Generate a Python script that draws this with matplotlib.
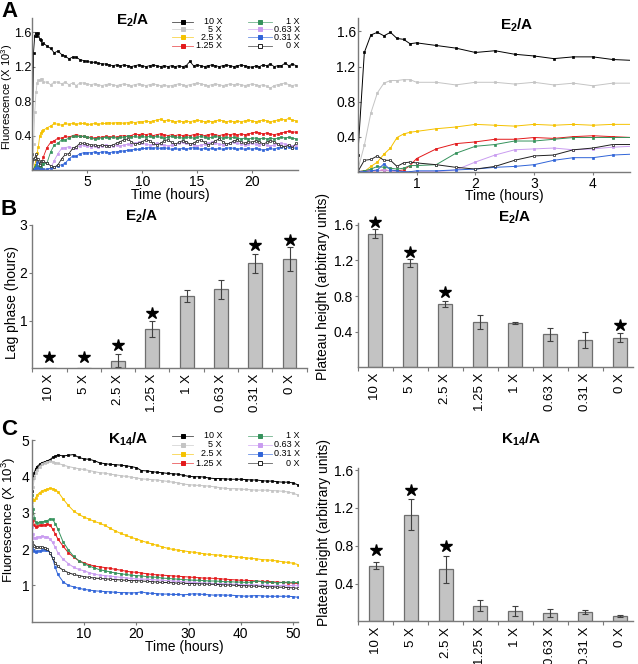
import numpy as np
import matplotlib.pyplot as plt
from matplotlib.lines import Line2D

plt.rcParams['font.family'] = ['Liberation Sans', 'DejaVu Sans']
plt.rcParams['mathtext.fontset'] = 'custom'
plt.rcParams['mathtext.rm'] = 'Liberation Sans'
plt.rcParams['mathtext.bf'] = 'Liberation Sans:bold'
plt.rcParams['mathtext.default'] = 'regular'

W, H = 638, 664

labels = ['10 X', '5 X', '2.5 X', '1.25 X', '1 X', '0.63 X', '0.31 X', '0 X']
colors = ['#000000', '#c4c4c4', '#f5c200', '#e3191b', '#35925c', '#c99cf0', '#3064d8', '#202020']

# ---- panel A: E2/A kinetics (0-1 h every ~6.7 min, then every 20 min) ----
t_A = np.concatenate([np.linspace(0, 1, 10), np.arange(4, 73) / 3])

a_10x = [0.19, 1.36, 1.56, 1.59, 1.55, 1.59, 1.52, 1.51, 1.46, 1.47,
         1.44, 1.41, 1.36, 1.38, 1.34, 1.32, 1.29, 1.31, 1.31, 1.28, 1.27,
         1.26, 1.25, 1.25, 1.24, 1.23, 1.23, 1.22,
         1.21, 1.22, 1.21, 1.22, 1.21, 1.20, 1.21, 1.22, 1.21,
         1.20, 1.21, 1.22, 1.21, 1.20, 1.21, 1.20, 1.21, 1.20,
         1.21, 1.20, 1.21, 1.26, 1.21, 1.22, 1.21, 1.20, 1.21,
         1.22, 1.21, 1.20, 1.21, 1.22, 1.21, 1.20, 1.21, 1.22,
         1.21, 1.20, 1.19, 1.21, 1.20, 1.22, 1.21, 1.23, 1.20,
         1.21, 1.21, 1.24, 1.21, 1.23, 1.21]
a_5x = [0.02, 0.30, 0.67, 0.90, 1.01, 1.04, 1.04, 1.05, 1.05, 1.02,
        1.02, 0.99, 1.02, 1.02, 1.00, 1.02, 0.99, 1.01, 0.98, 1.01, 1.01,
        1.00, 0.99, 1.00, 0.99, 0.98, 0.99, 1.00,
        0.99, 0.98, 0.99, 1.00, 0.99, 0.98, 0.99, 1.00, 0.99,
        0.98, 0.99, 1.00, 0.99, 0.98, 0.99, 0.97, 0.98, 0.99,
        1.00, 0.99, 0.98, 0.99, 1.00, 1.01, 1.00, 0.99, 0.98,
        0.99, 1.00, 0.99, 0.98, 0.99, 1.00, 0.99, 1.00, 0.99,
        0.98, 0.99, 1.00, 0.99, 0.98, 0.99, 0.97, 0.95, 0.98,
        0.99, 1.00, 1.01, 0.99, 0.98, 0.99]
a_2_5x = [0.00, 0.00, 0.06, 0.11, 0.20, 0.27, 0.39, 0.43, 0.45, 0.46,
          0.49, 0.51, 0.54, 0.53, 0.52, 0.54, 0.53, 0.54, 0.53, 0.54, 0.54,
          0.53, 0.53, 0.54, 0.53, 0.54, 0.54, 0.55,
          0.54, 0.55, 0.55, 0.54, 0.55, 0.56, 0.55, 0.56, 0.56,
          0.57, 0.56, 0.57, 0.58, 0.59, 0.57, 0.58, 0.57, 0.56,
          0.57, 0.56, 0.57, 0.56, 0.57, 0.58, 0.57, 0.56, 0.57,
          0.56, 0.57, 0.58, 0.57, 0.56, 0.57, 0.56, 0.57, 0.56,
          0.57, 0.58, 0.57, 0.56, 0.57, 0.58, 0.57, 0.56, 0.57,
          0.58, 0.59, 0.58, 0.60, 0.58, 0.57]
a_1_25x = [0.00, 0.01, 0.01, 0.01, 0.02, 0.01, 0.01, 0.02, 0.07, 0.15,
           0.26, 0.32, 0.34, 0.37, 0.37, 0.39, 0.38, 0.40, 0.41, 0.40, 0.39,
           0.38, 0.38, 0.37, 0.38, 0.38, 0.39, 0.38,
           0.39, 0.38, 0.39, 0.40, 0.39, 0.40, 0.42, 0.41, 0.42,
           0.41, 0.42, 0.40, 0.41, 0.42, 0.41, 0.40, 0.41, 0.40,
           0.41, 0.40, 0.41, 0.40, 0.41, 0.42, 0.41, 0.40, 0.41,
           0.42, 0.41, 0.40, 0.41, 0.42, 0.41, 0.42, 0.41, 0.42,
           0.41, 0.42, 0.43, 0.44, 0.43, 0.42, 0.43, 0.42, 0.41,
           0.42, 0.43, 0.44, 0.45, 0.44, 0.44]
a_1x = [0.00, 0.01, 0.03, 0.06, 0.05, 0.04, 0.03, 0.04, 0.07, 0.07,
        0.08, 0.21, 0.29, 0.31, 0.35, 0.35, 0.37, 0.39, 0.39, 0.39, 0.39,
        0.38, 0.37, 0.36, 0.37, 0.37, 0.38, 0.37,
        0.38, 0.37, 0.38, 0.38, 0.39, 0.38, 0.39, 0.38, 0.39,
        0.38, 0.39, 0.38, 0.39, 0.38, 0.37, 0.38, 0.39, 0.38,
        0.38, 0.37, 0.38, 0.38, 0.37, 0.38, 0.39, 0.38, 0.37,
        0.38, 0.39, 0.38, 0.37, 0.38, 0.37, 0.38, 0.37, 0.36,
        0.37, 0.36, 0.37, 0.37, 0.36, 0.37, 0.36, 0.37, 0.36,
        0.37, 0.38, 0.37, 0.38, 0.37, 0.36]
a_0_63x = [0.00, 0.00, 0.01, 0.01, 0.02, 0.01, 0.00, 0.00, 0.00, 0.00,
           0.00, 0.02, 0.11, 0.19, 0.25, 0.26, 0.27, 0.25, 0.26, 0.28, 0.29,
           0.28, 0.27, 0.28, 0.27, 0.28, 0.29, 0.28,
           0.28, 0.29, 0.28, 0.29, 0.30, 0.29, 0.31, 0.32, 0.31,
           0.30, 0.29, 0.30, 0.31, 0.30, 0.29, 0.28, 0.29, 0.30,
           0.31, 0.32, 0.31, 0.30, 0.29, 0.28, 0.29, 0.30, 0.31,
           0.32, 0.31, 0.30, 0.29, 0.30, 0.31, 0.32, 0.31, 0.30,
           0.29, 0.30, 0.31, 0.30, 0.29, 0.30, 0.29, 0.28, 0.29,
           0.30, 0.31, 0.30, 0.29, 0.28, 0.28]
a_0_31x = [0.00, 0.00, 0.01, 0.02, 0.09, 0.02, 0.01, 0.00, 0.00, 0.01,
           0.01, 0.02, 0.03, 0.05, 0.06, 0.08, 0.13, 0.16, 0.16, 0.19, 0.20,
           0.20, 0.20, 0.21, 0.20, 0.21, 0.21, 0.20,
           0.21, 0.21, 0.22, 0.22, 0.23, 0.23, 0.24, 0.24, 0.25,
           0.25, 0.26, 0.25, 0.26, 0.25, 0.26, 0.25, 0.24, 0.25,
           0.24, 0.25, 0.24, 0.25, 0.26, 0.25, 0.24, 0.25, 0.24,
           0.25, 0.24, 0.25, 0.24, 0.25, 0.26, 0.25, 0.24, 0.25,
           0.24, 0.25, 0.24, 0.25, 0.24, 0.23, 0.24, 0.25, 0.24,
           0.26, 0.27, 0.26, 0.27, 0.26, 0.25]
a_0x = [0.00, 0.13, 0.14, 0.18, 0.13, 0.13, 0.06, 0.10, 0.11, 0.10,
        0.08, 0.05, 0.03, 0.06, 0.13, 0.18, 0.19, 0.25, 0.27, 0.31, 0.31,
        0.30, 0.29, 0.29, 0.28, 0.29, 0.28, 0.28,
        0.29, 0.31, 0.33, 0.35, 0.36, 0.33, 0.30, 0.31, 0.33,
        0.35, 0.34, 0.31, 0.29, 0.31, 0.34, 0.35, 0.32, 0.30,
        0.32, 0.34, 0.33, 0.30, 0.31, 0.34, 0.35, 0.32, 0.29,
        0.31, 0.34, 0.36, 0.33, 0.30, 0.31, 0.34, 0.35, 0.32,
        0.31, 0.33, 0.32, 0.34, 0.33, 0.30, 0.32, 0.34, 0.33,
        0.30, 0.28, 0.27, 0.29, 0.26, 0.31]

# ---- panel B / C bar data ----
lag = [0, 0, 0.16, 0.82, 1.51, 1.65, 2.20, 2.28]
lag_err = [0, 0, 0.13, 0.16, 0.13, 0.19, 0.20, 0.25]
lag_star = [0.23, 0.23, 0.48, 1.15, np.nan, np.nan, 2.58, 2.69]

plat_e2 = [1.50, 1.17, 0.71, 0.51, 0.50, 0.37, 0.31, 0.33]
plat_e2_err = [0.05, 0.045, 0.03, 0.08, 0.01, 0.075, 0.09, 0.05]
plat_e2_star = [1.63, 1.30, 0.84, np.nan, np.nan, np.nan, np.nan, 0.47]

plat_k14 = [0.59, 1.13, 0.55, 0.166, 0.11, 0.088, 0.095, 0.053]
plat_k14_err = [0.035, 0.16, 0.145, 0.056, 0.05, 0.04, 0.02, 0.01]
plat_k14_star = [0.75, 1.39, 0.80, np.nan, np.nan, np.nan, np.nan, np.nan]

# ---- panel C: K14/A kinetics ----
t_C = np.concatenate([[0, 0.25, 0.5, 0.75, 1, 1.5, 2, 2.5, 3, 3.5, 4, 4.5, 5],
                      np.arange(6, 52)])

c_10x = [3.60, 3.95, 4.10, 4.20, 4.27, 4.33, 4.38, 4.40, 4.43, 4.46, 4.52, 4.55, 4.59,
         4.56, 4.58, 4.60, 4.52, 4.48, 4.47, 4.43, 4.37, 4.35, 4.33,
         4.32, 4.31, 4.29, 4.27, 4.24, 4.16, 4.15, 4.13, 4.11, 4.10,
         4.08, 4.07, 4.06, 4.03, 4.00, 3.99, 3.99, 3.98, 3.95, 3.94,
         3.94, 3.93, 3.92, 3.92, 3.92, 3.91, 3.90, 3.90, 3.88, 3.87,
         3.87, 3.85, 3.84, 3.84, 3.82, 3.76]
c_5x = [3.30, 3.70, 3.95, 4.08, 4.17, 4.27, 4.35, 4.38, 4.40, 4.41, 4.40, 4.38, 4.36,
        4.31, 4.27, 4.24, 4.21, 4.19, 4.16, 4.13, 4.10, 4.09, 4.06,
        4.04, 4.02, 4.00, 3.98, 3.96, 3.93, 3.92, 3.91, 3.90, 3.88,
        3.86, 3.84, 3.82, 3.79, 3.77, 3.76, 3.75, 3.74, 3.73, 3.71,
        3.69, 3.67, 3.66, 3.66, 3.65, 3.64, 3.63, 3.62, 3.62, 3.62,
        3.61, 3.60, 3.59, 3.57, 3.54, 3.48]
c_2_5x = [3.38, 3.35, 3.35, 3.40, 3.48, 3.55, 3.60, 3.63, 3.65, 3.67, 3.66, 3.63, 3.58,
          3.38, 3.20, 3.05, 2.95, 2.88, 2.82, 2.76, 2.71, 2.65, 2.57,
          2.50, 2.43, 2.38, 2.32, 2.28, 2.23, 2.18, 2.14, 2.10, 2.06,
          2.02, 1.99, 1.97, 1.95, 1.93, 1.91, 1.89, 1.87, 1.85, 1.84,
          1.83, 1.81, 1.80, 1.79, 1.77, 1.76, 1.74, 1.73, 1.71, 1.70,
          1.69, 1.67, 1.65, 1.63, 1.61, 1.57]
c_1_25x = [3.00, 2.80, 2.65, 2.60, 2.62, 2.65, 2.65, 2.67, 2.69, 2.66, 2.55, 2.42, 2.28,
           2.08, 1.90, 1.78, 1.68, 1.62, 1.57, 1.53, 1.51, 1.49, 1.47,
           1.44, 1.42, 1.39, 1.37, 1.36, 1.34, 1.32, 1.30, 1.29, 1.28,
           1.27, 1.26, 1.25, 1.24, 1.23, 1.22, 1.21, 1.20, 1.20, 1.19,
           1.18, 1.17, 1.16, 1.15, 1.14, 1.14, 1.13, 1.12, 1.11, 1.11,
           1.10, 1.09, 1.08, 1.07, 1.06, 1.05]
c_1x = [3.50, 3.10, 2.85, 2.75, 2.72, 2.74, 2.75, 2.76, 2.78, 2.83, 2.82, 2.70, 2.55,
        2.20, 1.98, 1.80, 1.68, 1.60, 1.53, 1.48, 1.43, 1.40, 1.37,
        1.34, 1.32, 1.30, 1.28, 1.27, 1.26, 1.24, 1.23, 1.22, 1.20,
        1.19, 1.18, 1.17, 1.16, 1.15, 1.14, 1.14, 1.13, 1.12, 1.12,
        1.11, 1.10, 1.10, 1.09, 1.09, 1.08, 1.09, 1.12, 1.10, 1.08,
        1.08, 1.07, 1.08, 1.09, 1.08, 1.08]
c_0_63x = [2.60, 2.40, 2.30, 2.30, 2.32, 2.34, 2.35, 2.34, 2.33, 2.28, 2.18, 2.05, 1.90,
           1.72, 1.60, 1.50, 1.44, 1.40, 1.35, 1.31, 1.28, 1.27, 1.25,
           1.24, 1.22, 1.21, 1.19, 1.18, 1.17, 1.17, 1.16, 1.15, 1.14,
           1.13, 1.12, 1.11, 1.10, 1.09, 1.08, 1.07, 1.06, 1.06, 1.05,
           1.05, 1.04, 1.03, 1.03, 1.02, 1.01, 1.02, 1.01, 1.00, 1.00,
           0.99, 0.99, 1.00, 0.99, 1.00, 1.00]
c_0_31x = [2.02, 1.97, 1.94, 1.93, 1.94, 1.95, 1.97, 1.98, 1.97, 1.90, 1.75, 1.50, 1.30,
           1.10, 1.00, 0.96, 0.92, 0.89, 0.87, 0.85, 0.84, 0.83, 0.82,
           0.81, 0.80, 0.80, 0.79, 0.80, 0.82, 0.79, 0.78, 0.77, 0.76,
           0.76, 0.75, 0.75, 0.74, 0.75, 0.77, 0.76, 0.75, 0.74, 0.73,
           0.74, 0.73, 0.73, 0.72, 0.71, 0.70, 0.71, 0.72, 0.71, 0.70,
           0.70, 0.70, 0.70, 0.70, 0.69, 0.67]
c_0x = [2.20, 2.10, 2.07, 2.06, 2.06, 2.05, 2.05, 2.04, 2.00, 1.90, 1.75, 1.62, 1.52,
        1.42, 1.35, 1.30, 1.27, 1.24, 1.22, 1.20, 1.19, 1.18, 1.17,
        1.16, 1.15, 1.14, 1.13, 1.13, 1.12, 1.11, 1.10, 1.09, 1.08,
        1.08, 1.07, 1.06, 1.06, 1.05, 1.05, 1.04, 1.04, 1.03, 1.03,
        1.02, 1.01, 1.01, 1.00, 0.99, 0.99, 0.98, 0.98, 0.97, 0.96,
        0.96, 0.95, 0.95, 0.94, 0.93, 0.92]

series_A = [a_10x, a_5x, a_2_5x, a_1_25x, a_1x, a_0_63x, a_0_31x, a_0x]
series_C = [c_10x, c_5x, c_2_5x, c_1_25x, c_1x, c_0_63x, c_0_31x, c_0x]


def rect(left, top, right, bottom):
    # pixel box -> figure fraction
    return [left / W, 1 - bottom / H, (right - left) / W, (bottom - top) / H]


def style(ax, ydir='in'):
    for s in ['top', 'right']:
        ax.spines[s].set_visible(False)
    for s in ['left', 'bottom']:
        ax.spines[s].set_color('#7a7a7a')
        ax.spines[s].set_linewidth(1.0)
    ax.tick_params(direction='out', length=2, width=0.8, color='#7a7a7a',
                   labelsize=10, pad=1.5)
    ax.tick_params(axis='y', direction=ydir, pad=1.5)


def lines(ax, t, data, ms=2.0, lw=0.7):
    for y, c, lab in zip(data, colors, labels):
        mfc = 'white' if lab == '0 X' else c
        ax.plot(t, y, '-', color=c, lw=lw, marker='s', ms=ms, mfc=mfc,
                mec=c, mew=0.5)


def bars(ax, vals, errs, stars):
    x = np.arange(len(labels))
    ax.bar(x, vals, width=0.4, color='#c3c3c3', edgecolor='#6e6e6e', lw=0.9)
    e = np.array(errs)
    m = e > 0
    ax.errorbar(x[m], np.array(vals)[m], yerr=e[m], fmt='none', ecolor='#404040',
                elinewidth=0.8, capsize=2.2, capthick=0.8)
    ax.plot(x, stars, '*', color='black', ms=9, ls='none', clip_on=False)
    ax.set_xlim(-0.5, 7.5)
    ax.set_xticks(x)
    ax.set_xticklabels(labels, rotation=90, fontsize=9.5)
    ax.set_xticks(np.arange(-0.5, 8, 1), minor=True)
    ax.tick_params(axis='x', which='major', length=0, pad=4)
    ax.tick_params(axis='x', which='minor', length=3, color='#7a7a7a', width=0.8)


def legend_block(fig, rows_y):
    for i, (c, lab) in enumerate(zip(colors, labels)):
        col, row = divmod(i, 4)
        x0, x1, xt = [(172, 193, 222), (248, 272, 300)][col]
        y = 1 - rows_y[row] / H
        fig.add_artist(Line2D([x0 / W, x1 / W], [y, y], transform=fig.transFigure,
                              color=c, lw=0.6, alpha=0.7))
        fig.add_artist(Line2D([(x0 + x1) / 2 / W], [y], transform=fig.transFigure,
                              marker='s', ms=3, color=c,
                              mfc='white' if lab == '0 X' else c, mec=c, mew=0.7))
        fig.text(xt / W, y, lab, ha='right', va='center', fontsize=6.5)


fig = plt.figure(figsize=(W / 100, H / 100), dpi=100)
title_e2 = r'E$_\mathbf{2}$/A'
title_k14 = r'K$_\mathbf{14}$/A'

# A left
ax = fig.add_axes(rect(32.3, 18.3, 298.3, 170))
style(ax)
ax.tick_params(axis='y', labelsize=9, pad=0.5)
lines(ax, t_A, series_A, ms=1.8, lw=0.6)
ax.set_xlim(0, 24.2)
ax.set_ylim(0, 1.76)
ax.set_xticks([5, 10, 15, 20])
ax.set_yticks([0.4, 0.8, 1.2, 1.6])
ax.set_xlabel('Time (hours)', fontsize=10)
ax.xaxis.set_label_coords(0.52, -0.12)
ax.set_ylabel(r'Fluorescence (X 10$^3$)', fontsize=8)
ax.yaxis.set_label_coords(-0.066, 0.48)
fig.text(133 / W, 1 - 20 / H, title_e2, ha='center', va='center', fontsize=11, fontweight='bold')
legend_block(fig, [21.7, 29.3, 37.3, 45.7])

# A right (zoom on first hours)
ax = fig.add_axes(rect(357.8, 18.3, 630, 171.7))
style(ax)
lines(ax, t_A, series_A, ms=2.0, lw=0.7)
ax.set_xlim(0, 4.63)
ax.set_ylim(0, 1.75)
ax.set_xticks([1, 2, 3, 4])
ax.set_yticks([0.4, 0.8, 1.2, 1.6])
ax.set_xlabel('Time (hours)', fontsize=10)
ax.xaxis.set_label_coords(0.54, -0.115)
fig.text(517 / W, 1 - 25 / H, title_e2, ha='center', va='center', fontsize=11, fontweight='bold')

# B left
ax = fig.add_axes(rect(32.3, 225, 306.7, 368.3))
style(ax, ydir='out')
bars(ax, lag, lag_err, lag_star)
ax.set_ylim(0, 3)
ax.set_yticks([1, 2, 3])
ax.set_ylabel('Lag phase (hours)', fontsize=10)
ax.yaxis.set_label_coords(-0.048, 0.46)
fig.text(141.7 / W, 1 - 216.7 / H, title_e2, ha='center', va='center', fontsize=11, fontweight='bold')

# B right
ax = fig.add_axes(rect(357.7, 223, 633, 367.3))
style(ax, ydir='out')
bars(ax, plat_e2, plat_e2_err, plat_e2_star)
ax.set_xlim(-0.5, 7.37)
ax.set_ylim(0, 1.62)
ax.set_yticks([0.4, 0.8, 1.2, 1.6])
ax.set_ylabel('Plateau height (arbitrary units)', fontsize=10)
ax.yaxis.set_label_coords(-0.1, 0.56)
fig.text(515 / W, 1 - 217.5 / H, title_e2, ha='center', va='center', fontsize=11, fontweight='bold')

# C left
ax = fig.add_axes(rect(31.7, 440, 298.3, 621.7))
style(ax)
lines(ax, t_C, series_C, ms=2.0, lw=0.7)
ax.set_xlim(0, 51)
ax.set_ylim(0, 5)
ax.set_xticks([10, 20, 30, 40, 50])
ax.set_yticks([1, 2, 3, 4, 5])
ax.set_xlabel('Time (hours)', fontsize=10)
ax.xaxis.set_label_coords(0.571, -0.1)
ax.set_ylabel(r'Fluorescence (X 10$^3$)', fontsize=9.5)
ax.yaxis.set_label_coords(-0.052, 0.56)
fig.text(128 / W, 1 - 439 / H, title_k14, ha='center', va='center', fontsize=11, fontweight='bold')
legend_block(fig, [435.7, 444.7, 454, 463])

# C right
ax = fig.add_axes(rect(358.3, 468.3, 633, 621.3))
style(ax, ydir='out')
bars(ax, plat_k14, plat_k14_err, plat_k14_star)
ax.set_xlim(-0.5, 7.37)
ax.set_ylim(0, 1.62)
ax.set_yticks([0.4, 0.8, 1.2, 1.6])
ax.set_ylabel('Plateau height (arbitrary units)', fontsize=10)
ax.yaxis.set_label_coords(-0.1, 0.58)
fig.text(521 / W, 1 - 439 / H, title_k14, ha='center', va='center', fontsize=11, fontweight='bold')

# panel letters
for letter, ypx in [('A', 1), ('B', 199), ('C', 419)]:
    fig.text(1 / W, 1 - ypx / H, letter, ha='left', va='top', fontsize=16, fontweight='bold')

fig.savefig('out.png', dpi=100)
